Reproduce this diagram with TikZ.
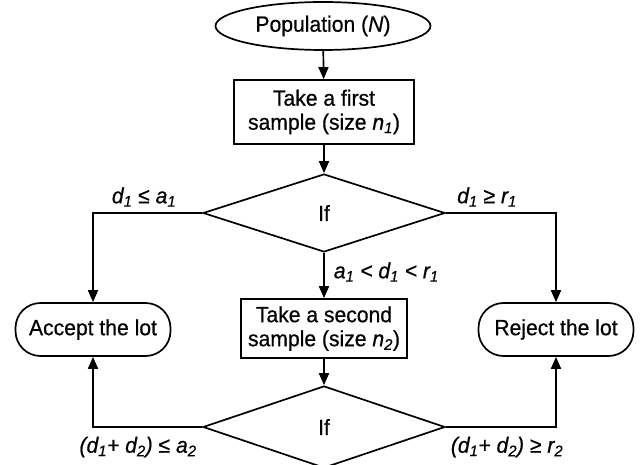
\documentclass[tikz,border=0pt]{standalone}
\usepackage{fontspec}
\setmainfont[FakeStretch=0.96,FakeBold=0.6]{Liberation Sans}
\usetikzlibrary{arrows.meta,shapes.geometric}
\begin{document}
\begin{tikzpicture}[x=1pt,y=-1pt, line width=1.7pt,
  >={Triangle[length=12pt,width=10pt]},
  every node/.style={font=\fontsize{22}{24}\selectfont},
  ovalnode/.style={draw, ellipse, inner sep=0pt, minimum width=215pt, minimum height=48pt},
  boxnode/.style={draw, rectangle, inner sep=0pt, align=center},
  endnode/.style={draw, rectangle, rounded corners=25pt, inner sep=0pt, minimum width=155pt, minimum height=53pt},
  decnode/.style={draw, diamond, inner sep=0pt, minimum width=242pt, minimum height=78pt},
  lab/.style={inner sep=0pt, font=\fontsize{22}{24}\selectfont\itshape}]
\useasboundingbox (0,0) rectangle (640,465);
\clip (0,0) rectangle (640,465);
\node[ovalnode] (pop) at (323,26) {Population (\textit{N})};
\node[boxnode, minimum width=180pt, minimum height=64pt] (s1) at (324,112) {Take a first\\sample (size \textit{n}\textsubscript{\textit{1}})};
\node[decnode] (if1) at (324,213) {If};
\node[boxnode, minimum width=166pt, minimum height=59pt] (s2) at (324,328.5) {Take a second\\sample (size \textit{n}\textsubscript{\textit{2}})};
\node[decnode, minimum height=82pt] (if2) at (324,427) {If};
\node[endnode] (acc) at (93,329.5) {Accept the lot};
\node[endnode] (rej) at (556,329.5) {Reject the lot};
\draw[->] (pop) -- (s1);
\draw[->] (s1) -- (if1);
\draw[->] (if1) -- (s2);
\draw[->] (s2) -- (if2);
\draw[->] (if1.west) -| (acc.north);
\draw[->] (if1.east) -| (rej.north);
\draw[->] (if2.west) -| (acc.south);
\draw[->] (if2.east) -| (rej.south);
\node[lab] (l1) at (144,197) {d\textsubscript{1} ≤ a\textsubscript{1}};
\node[lab] (l2) at (487,197) {d\textsubscript{1} ≥ r\textsubscript{1}};
\node[lab, anchor=west] (l3) at (333,272) {a\textsubscript{1} < d\textsubscript{1} < r\textsubscript{1}};
\node[lab] (l4) at (138,447) {(d\textsubscript{1}+ d\textsubscript{2}) ≤ a\textsubscript{2}};
\node[lab] (l5) at (507,447) {(d\textsubscript{1}+ d\textsubscript{2}) ≥ r\textsubscript{2}};
\end{tikzpicture}
\end{document}
